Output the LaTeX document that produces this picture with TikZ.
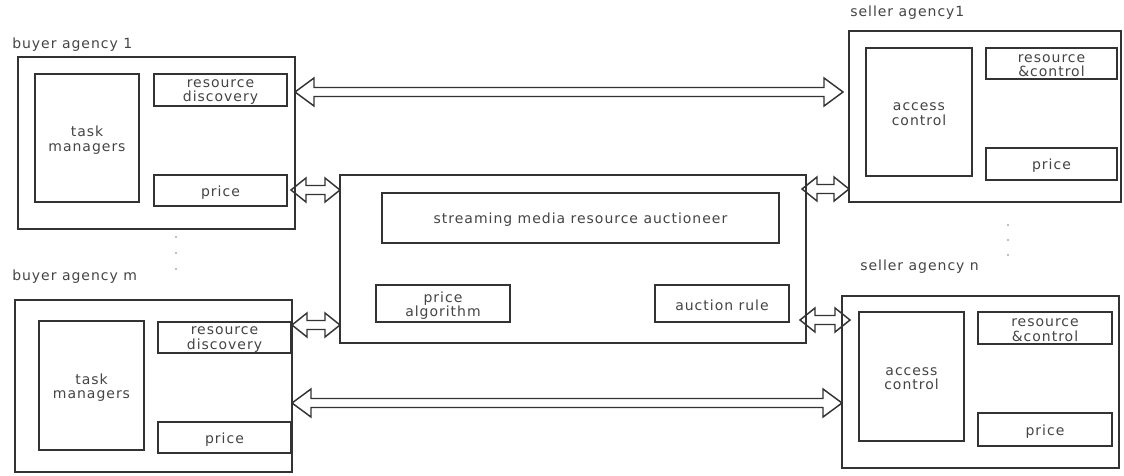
\documentclass[tikz,border=0pt]{standalone}
\usepackage{fontspec}
\setmainfont{DejaVu Sans}[LetterSpace=7]
\usetikzlibrary{calc}
\definecolor{ink}{HTML}{333333}
\definecolor{txt}{HTML}{444444}

\tikzset{
  every node/.style={font=\fontsize{10.5}{10.8}\selectfont, text=txt},
  outerbox/.style={draw=ink, line width=1.3pt, inner sep=0pt, outer sep=0pt},
  innerbox/.style={draw=ink, line width=1.3pt, inner sep=0pt, outer sep=0pt},
  boxtext/.style={align=center, inner sep=0pt, yshift=-1.6pt},
  caption/.style={anchor=west, inner sep=0pt},
  arrowline/.style={draw=ink, line width=1.1pt, line join=miter},
  dotmark/.style={fill=gray!70},
}

% rectangle node given by its corners (in picture units), text set as a centred label
% #1 style, #2 name, #3 x1, #4 y1, #5 x2, #6 y2, #7 text
\newcommand\rectnode[7]{%
  \node[#1, minimum width={(#5-#3)*0.75pt}, minimum height={(#6-#4)*0.75pt},
        label={[boxtext, name=#2-text]center:#7}]
    (#2) at ({(#3+#5)/2},{(#4+#6)/2}) {};
}

% hollow two-headed block arrow from point #1 (left tip) to point #2 (right tip)
% #3 head length, #4 head half-width; shaft half-width 4.5
\newcommand\hollowarrow[4]{%
  \draw[arrowline] (#1) -- ++(#3,-#4) -- ++(0,{#4-4.5})
    -- ($(#2)+(-#3,-4.5)$) -- ++(0,{-(#4-4.5)})
    -- (#2) -- ++(-#3,#4) -- ++(0,{-(#4-4.5)})
    -- ($(#1)+(#3,4.5)$) -- ++(0,{#4-4.5}) -- cycle;
}

\begin{document}
\begin{tikzpicture}[x=0.75pt, y=-0.75pt]
\useasboundingbox (0,0) rectangle (1124,475);

% buyer agency 1
\node[caption] (lb1) at (12,45) {buyer agency 1};
\rectnode{outerbox}{b1}{18}{57}{295}{229}{}
\rectnode{innerbox}{b1task}{35}{74}{139}{202}{task\\managers}
\rectnode{innerbox}{b1disc}{154}{74}{287}{106}{resource\\discovery}
\rectnode{innerbox}{b1price}{154}{175}{287}{206}{price}

% buyer agency m
\node[caption] (lbm) at (12,277) {buyer agency m};
\rectnode{outerbox}{bm}{15}{300}{292}{472}{}
\rectnode{innerbox}{bmtask}{39}{321}{144}{450}{task\\managers}
\rectnode{innerbox}{bmdisc}{158}{322}{291}{353}{resource\\discovery}
\rectnode{innerbox}{bmprice}{158}{422}{291}{453}{price}

% auctioneer
\rectnode{outerbox}{auc}{340}{175}{806}{343}{}
\rectnode{innerbox}{aucmain}{382}{193}{779}{243}{streaming media resource auctioneer}
\rectnode{innerbox}{aucalg}{376}{285}{510}{322}{price\\algorithm}
\rectnode{innerbox}{aucrule}{655}{285}{789}{322}{auction rule}

% seller agency 1
\node[caption] (ls1) at (850,13) {seller agency1};
\rectnode{outerbox}{s1}{849}{31}{1121}{202}{}
\rectnode{innerbox}{s1acc}{866}{48}{972}{176}{access\\control}
\rectnode{innerbox}{s1res}{986}{48}{1117}{79}{resource\\\&control}
\rectnode{innerbox}{s1price}{986}{148}{1117}{180}{price}

% seller agency n
\node[caption] (lsn) at (860,267) {seller agency n};
\rectnode{outerbox}{sn}{842}{296}{1119}{468}{}
\rectnode{innerbox}{snacc}{859}{312}{964}{441}{access\\control}
\rectnode{innerbox}{snres}{978}{312}{1112}{344}{resource\\\&control}
\rectnode{innerbox}{snprice}{978}{413}{1112}{446}{price}

% ellipsis dots
\foreach \yy in {237,253,269} \fill[dotmark] (176,\yy) circle (0.8pt);
\foreach \yy in {225,240,255} \fill[dotmark] (1008,\yy) circle (0.8pt);

% arrow levels
\coordinate (lvA) at (0,92);
\coordinate (lvB) at (0,403);
\coordinate (lvC) at (0,190);
\coordinate (lvD) at (0,325);
\coordinate (lvE) at (0,189);
\coordinate (lvF) at (0,320);

% connectors
\hollowarrow{b1.east |- lvA}{$(s1.west |- lvA)+(-6,0)$}{19}{14}
\hollowarrow{bm.east |- lvB}{sn.west |- lvB}{19}{14}
\hollowarrow{$(auc.west |- lvC)+(-49,0)$}{auc.west |- lvC}{15}{12}
\hollowarrow{$(auc.west |- lvD)+(-48,0)$}{auc.west |- lvD}{15}{12}
\hollowarrow{$(auc.east |- lvE)+(-4,0)$}{s1.west |- lvE}{15}{12}
\hollowarrow{$(auc.east |- lvF)+(-6,0)$}{$(auc.east |- lvF)+(44,0)$}{15}{12}
\end{tikzpicture}
\end{document}
